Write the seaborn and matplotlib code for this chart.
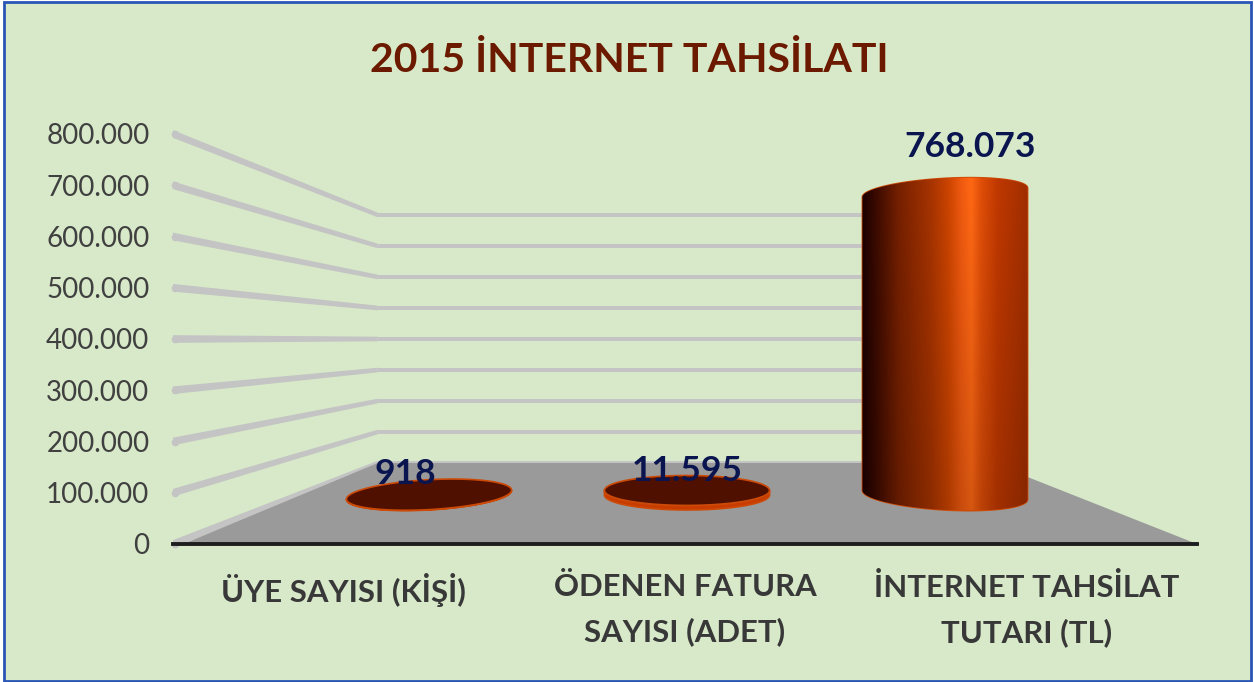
import numpy as np
import matplotlib
matplotlib.use('Agg')
import matplotlib.pyplot as plt
import seaborn as sns
from matplotlib.colors import LinearSegmentedColormap
from matplotlib.patches import Polygon, Rectangle

# Chart values
categories = ['ÜYE SAYISI (KİŞİ)', 'ÖDENEN FATURA\nSAYISI (ADET)', 'İNTERNET TAHSİLAT\nTUTARI (TL)']
values = [918, 11595, 768073]
y_ticks = [0, 100000, 200000, 300000, 400000, 500000, 600000, 700000, 800000]
title = '2015 İNTERNET TAHSİLATI'


def dotted(v):
    return f'{v:,}'.replace(',', '.')


def px_box(left, top, right, bottom):
    return [left / W, 1 - bottom / H, (right - left) / W, (bottom - top) / H]


def half_ellipse(cx, cy, rx, ry, tilt, start, end):
    t = np.linspace(start, end, 60)
    return np.column_stack([cx + rx * np.cos(t), cy + ry * np.sin(t) - tilt * np.cos(t)])


sns.set_theme(style='white')
plt.rcParams['font.family'] = ['Lato', 'DejaVu Sans']

W, H = 1254, 682
fig = plt.figure(figsize=(W / 100, H / 100), dpi=100, facecolor='white')
fig.add_artist(Rectangle((4 / W, 1 / H), 1247 / W, 679 / H, transform=fig.transFigure,
                         facecolor='#D7E9C8', edgecolor='#2A55B5', linewidth=2, zorder=-1))

# Front plane: carries the axis, the grid and the floor
ax = fig.add_axes(px_box(173, 134, 1197, 544), facecolor='none')
ax.set_xlim(-0.5, 2.5)
ax.set_ylim(0, 800000)
back_floor = 158000
back_ratio = 0.605
grid_color = '#C4C4C4'

for v in y_ticks:
    back = back_floor + v * back_ratio
    ax.fill([-0.5, -0.5, 0.1, 0.1], [v - 7500, v + 7500, back + 4500, back - 4500],
            color=grid_color, lw=0, clip_on=False, zorder=1)
    ax.plot([-0.495], [v], 'o', ms=5.5, color=grid_color, mew=0, clip_on=False, zorder=1)
    ax.fill([0.1, 1.9, 1.9, 0.1], [back - 4500, back - 4500, back + 4500, back + 4500],
            color=grid_color, lw=0, clip_on=False, zorder=1)

ax.fill([-0.47, 0.1, 1.9, 2.5], [0, back_floor, back_floor, 0], color='#9A9A9A', lw=0, zorder=2)

ax.set_yticks(y_ticks, [dotted(v) for v in y_ticks])
ax.set_xticks(range(len(categories)), categories)
ax.tick_params(axis='y', length=0, pad=17, labelsize=20, labelcolor='#404040')
ax.tick_params(axis='x', length=0, pad=21, labelsize=22.4, labelcolor='#383838')
for lab in ax.get_xticklabels():
    lab.set_fontweight('bold')
    lab.set_linespacing(1.68)
for name in ['left', 'right', 'top']:
    ax.spines[name].set_visible(False)
ax.spines['bottom'].set_color('#1E1E1E')
ax.spines['bottom'].set_linewidth(2.8)
ax.spines['bottom'].set_zorder(3)

# Depth plane: the cylinders stand here, 39.4 px per 100.000
ax_bar = fig.add_axes(px_box(300, 140.6, 1074, 534.4), facecolor='none')
sns.barplot(x=categories, y=values, color='#C83C00', saturation=1, width=0.64, ax=ax_bar)
ax_bar.axis('off')

shade = LinearSegmentedColormap.from_list('cyl', [
    (0.00, '#1C0000'), (0.08, '#3A0A00'), (0.22, '#762000'), (0.42, '#A83400'),
    (0.52, '#CC4400'), (0.60, '#F05A10'), (0.66, '#FF6814'), (0.72, '#E04E08'),
    (0.82, '#C03800'), (1.00, '#A02E00')])
column = shade(np.linspace(0, 1, 256))[:, :3]
falloff = np.linspace(1.0, 0.84, 200)[:, None, None]
cylinder_img = column[None, :, :] * falloff

ry = 38000
tilt_unit = 11400

for i, (rect, v) in enumerate(zip(ax_bar.patches, values)):
    rx = rect.get_width() / 2
    cx = rect.get_x() + rx
    h = rect.get_height()
    tilt = (i - 1) * tilt_unit
    tall = v > 100000
    lower = half_ellipse(cx, 0, rx, ry, tilt, np.pi, 2 * np.pi)
    if tall:
        upper = half_ellipse(cx, h, rx, ry * 0.95, -tilt, 0, np.pi)
    else:
        upper = half_ellipse(cx, h, rx, ry, tilt, 2 * np.pi, np.pi)
    body = Polygon(np.vstack([lower, upper]), closed=True, facecolor='#C83C00',
                   edgecolor='#CC4A08', linewidth=1.2, zorder=3)
    ax_bar.add_patch(body)
    rect.set_clip_path(body)
    if tall:
        img = ax_bar.imshow(cylinder_img, aspect='auto', zorder=4,
                            extent=(cx - rx, cx + rx, -ry, h + ry))
        img.set_clip_path(body)
    else:
        cap = np.vstack([half_ellipse(cx, h, rx, ry, tilt, 0, np.pi),
                         half_ellipse(cx, h, rx, ry, tilt, np.pi, 2 * np.pi)])
        ax_bar.add_patch(Polygon(cap, closed=True, facecolor='#501000',
                                 edgecolor='#CC4A08', linewidth=1.2, zorder=5))

ax_bar.set_xlim(-0.5, 2.5)
ax_bar.set_ylim(-100000, 900000)

label_offsets = [(-24, 21), (0, 19), (25, 46)]
for i, v in enumerate(values):
    ax_bar.annotate(dotted(v), (i, v), xytext=label_offsets[i], textcoords='offset pixels',
                    ha='center', va='center', fontsize=25.5, fontweight='bold',
                    color='#0A1550', zorder=6, annotation_clip=False)

fig.text(629 / W, 1 - 61 / H, title, ha='center', va='center', fontsize=29.5,
         fontweight='bold', color='#6B1A00')

fig.savefig('out.png', dpi=100, facecolor=fig.get_facecolor())
